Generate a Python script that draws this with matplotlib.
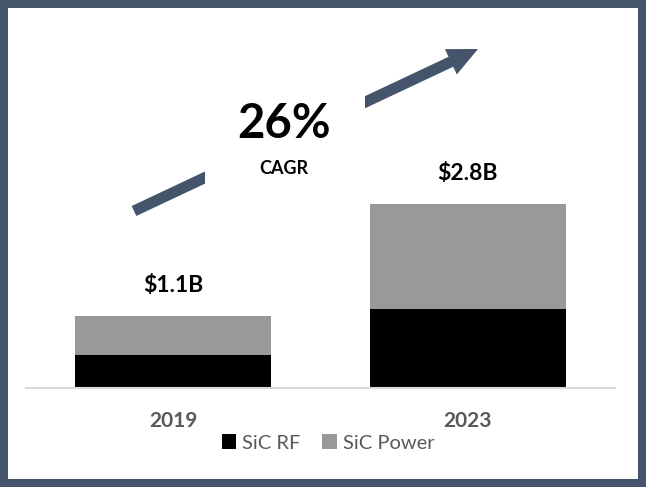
import matplotlib
matplotlib.use('Agg')
import matplotlib.pyplot as plt
from matplotlib.patches import Rectangle, FancyArrow

plt.rcParams['font.family'] = ['Lato', 'DejaVu Sans']

# data (billions of $)
years = ['2019', '2023']
sic_rf = [0.5, 1.2]
sic_power = [0.6, 1.6]
total_labels = ['$1.1B', '$2.8B']
cagr_value = '26%'
cagr_text = 'CAGR'

W, H = 646, 487
frame_color = '#44546A'
grey_text = '#595959'

fig = plt.figure(figsize=(W / 100, H / 100), dpi=100)

# main bar axes, baseline at y=388px
ax = fig.add_axes([26 / W, (H - 388) / H, 589 / W, (388 - 30) / H])
x = list(range(len(years)))
b1 = ax.bar(x, sic_rf, width=0.667, color='black', label='SiC RF')
b2 = ax.bar(x, sic_power, bottom=sic_rf, width=0.667, color='#999999', label='SiC Power')
ax.set_xlim(-0.5, 1.5)
px_per_unit = 184 / 2.8
ax.set_ylim(0, 358 / px_per_unit)

totals = [r + p for r, p in zip(sic_rf, sic_power)]
for i, t in enumerate(totals):
    ax.annotate(total_labels[i], (i, t), xytext=(0, 22), textcoords='offset points',
                ha='center', va='center', fontsize=16.5, fontweight='bold', color='black')

for s in ['left', 'top', 'right']:
    ax.spines[s].set_visible(False)
ax.spines['bottom'].set_color('#D9D9D9')
ax.spines['bottom'].set_linewidth(1.5)
ax.set_yticks([])
ax.set_xticks(x)
ax.set_xticklabels(years, fontsize=15, fontweight='bold', color=grey_text)
ax.tick_params(axis='x', length=0, pad=16.5)

fig.legend(handles=[b1, b2], loc='center', bbox_to_anchor=(328 / W, 1 - 443 / H),
           ncol=2, frameon=False, fontsize=14.5, handlelength=0.7, handleheight=0.7,
           handletextpad=0.3, columnspacing=1.1, labelcolor=grey_text)

# overlay in pixel coords for the growth arrow, CAGR text and frame
ov = fig.add_axes([0, 0, 1, 1])
ov.set_xlim(0, W)
ov.set_ylim(H, 0)
ov.axis('off')

ov.add_patch(FancyArrow(134, 211, 478 - 134, 49 - 211, width=11, head_width=28,
                        head_length=30, length_includes_head=True,
                        color=frame_color, lw=0))
ov.add_patch(Rectangle((205, 80), 160, 120, color='white', lw=0))
ov.text(284, 124, cagr_value, ha='center', va='center', fontsize=34, fontweight='bold')
ov.text(284, 168, cagr_text, ha='center', va='center', fontsize=13, fontweight='bold')

ov.add_patch(Rectangle((4, 4), W - 8, H - 8, fill=False, edgecolor=frame_color,
                       lw=8 * 0.72, clip_on=False))

fig.savefig('out.png', dpi=100)
